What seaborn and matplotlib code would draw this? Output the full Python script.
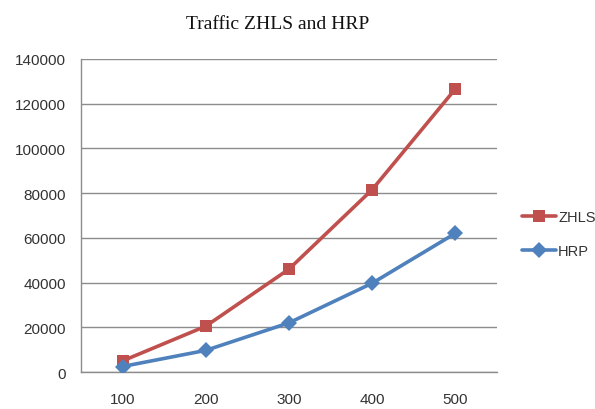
import matplotlib
matplotlib.use("Agg")
import matplotlib.pyplot as plt
import seaborn as sns
import pandas as pd
import numpy as np
from matplotlib.ticker import FixedLocator

categories = ["100", "200", "300", "400", "500"]
zhls = [5000, 20500, 46000, 81500, 126500]
hrp = [2500, 9700, 22000, 39700, 62000]

df = pd.DataFrame({
    "x": categories * 2,
    "y": zhls + hrp,
    "series": ["ZHLS"] * 5 + ["HRP"] * 5,
})

sns.set_style("white")
plt.rcParams['font.family'] = ['Liberation Sans', 'DejaVu Sans']

fig = plt.figure(figsize=(5.95, 4.10), dpi=100)
ax = fig.add_axes([0.136, 0.090, 0.699, 0.764])

palette = {"ZHLS": "#C0504D", "HRP": "#4F81BD"}
markers = {"ZHLS": "s", "HRP": "D"}
sns.lineplot(data=df, x="x", y="y", hue="series", style="series",
             palette=palette, markers=markers, dashes=False,
             linewidth=2.6, markersize=8, markeredgewidth=0,
             sort=False, ax=ax, zorder=3)

ax.set_xlim(-0.5, 4.5)
ax.set_ylim(0, 140000)
ax.set_yticks(np.arange(0, 140001, 20000))
ax.set_yticklabels([str(v) for v in range(0, 140001, 20000)])
ax.set_xticks(range(5))
ax.set_xticklabels(categories)
ax.xaxis.set_minor_locator(FixedLocator(np.arange(-0.5, 4.6, 1)))
ax.tick_params(axis='x', which='major', length=0, pad=14, labelsize=11, labelcolor="#333333")
ax.tick_params(axis='x', which='minor', length=5, width=1, color="#8c8c8c", direction='out')
ax.tick_params(axis='y', which='major', length=5, width=1, color="#8c8c8c", direction='out',
               labelsize=11, labelcolor="#333333", pad=6)
ax.yaxis.grid(True, color="#8c8c8c", linewidth=1)
ax.set_axisbelow(True)
for s in ["top", "right"]:
    ax.spines[s].set_visible(False)
for s in ["left", "bottom"]:
    ax.spines[s].set_color("#8c8c8c")
    ax.spines[s].set_linewidth(1)
ax.set_xlabel("")
ax.set_ylabel("")

handles, labels = ax.get_legend_handles_labels()
order = [labels.index("ZHLS"), labels.index("HRP")]
ax.legend([handles[i] for i in order], [labels[i] for i in order],
          loc="center left", bbox_to_anchor=(1.03, 0.44), frameon=False,
          fontsize=10.5, handlelength=2.3, handletextpad=0.15, labelspacing=1.4,
          labelcolor="#333333")

fig.text(0.466, 0.940, "Traffic ZHLS and HRP", ha="center", va="center",
         fontsize=14, family=["Liberation Serif", "DejaVu Serif"], color="#111111")

fig.savefig("out.png", dpi=100, facecolor="white")
